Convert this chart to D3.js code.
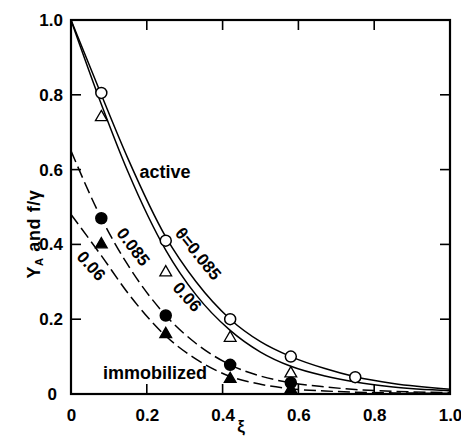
<!DOCTYPE html>
<html><head><meta charset="utf-8">
<script src="https://cdn.jsdelivr.net/npm/d3@7"></script>
<style>
html,body{margin:0;padding:0;background:#fff;}
svg{display:block;}
text{font-family:"Liberation Sans",Arial,sans-serif;font-weight:bold;fill:#000;}
</style></head>
<body>
<svg id="chart" width="461" height="440"></svg>
<script>
// ---- data ----
const xTicks = [0, 0.2, 0.4, 0.6, 0.8, 1.0];
const xTickLabels = ["0", "0.2", "0.4", "0.6", "0.8", "1.0"];
const yTicks = [0, 0.2, 0.4, 0.6, 0.8, 1.0];
const yTickLabels = ["0", "0.2", "0.4", "0.6", "0.8", "1.0"];

const xiPoints = [0.08, 0.25, 0.42, 0.58, 0.75];
const activeHigh = [0.805, 0.41, 0.20, 0.10, 0.045];    // open circles, θ=0.085
const activeLow = [0.74, 0.325, 0.15, 0.055];           // open triangles, θ=0.06
const immobHigh = [0.47, 0.21, 0.078, 0.03];            // filled circles
const immobLow = [0.40, 0.16, 0.04, 0.012];             // filled triangles

const curveX = [0, 0.08, 0.15, 0.25, 0.33, 0.42, 0.5, 0.58, 0.67, 0.75, 0.85, 1.0];
const curveActiveHigh = [1.0, 0.80, 0.63, 0.42, 0.30, 0.20, 0.14, 0.10, 0.068, 0.046, 0.028, 0.013];
const curveActiveLow  = [1.0, 0.775, 0.595, 0.385, 0.265, 0.17, 0.112, 0.074, 0.048, 0.032, 0.019, 0.009];
const curveImmobHigh  = [0.65, 0.47, 0.345, 0.21, 0.135, 0.078, 0.048, 0.03, 0.019, 0.012, 0.007, 0.004];
const curveImmobLow   = [0.48, 0.37, 0.27, 0.155, 0.093, 0.047, 0.026, 0.014, 0.008, 0.005, 0.003, 0.002];

// ---- layout ----
const svg = d3.select("#chart");
const m = {left: 71, right: 11, top: 20, bottom: 46};
const W = 461 - m.left - m.right, H = 440 - m.top - m.bottom;
const g = svg.append("g").attr("transform", `translate(${m.left},${m.top})`);
const x = d3.scaleLinear().domain([0, 1]).range([0, W]);
const y = d3.scaleLinear().domain([0, 1]).range([H, 0]);

// frame
g.append("rect").attr("x", 0).attr("y", 0).attr("width", W).attr("height", H)
  .attr("fill", "none").attr("stroke", "#000").attr("stroke-width", 2.2);

const inner = [0.2, 0.4, 0.6, 0.8];
const ax = g.append("g").attr("transform", `translate(0,${H})`)
  .call(d3.axisBottom(x).tickValues(xTicks).tickSize(0).tickPadding(15)
    .tickFormat((d, i) => xTickLabels[i]));
const ay = g.append("g")
  .call(d3.axisLeft(y).tickValues(yTicks).tickSize(0).tickPadding(8)
    .tickFormat((d, i) => yTickLabels[i]));
[ax, ay].forEach(a => { a.select(".domain").remove(); a.selectAll("text").attr("font-size", 17).attr("font-family", "Liberation Sans, Arial, sans-serif").attr("font-weight", "bold"); });
ay.selectAll(".tick").filter(d => d === 0).select("text").attr("x", -14);

const tk = 10;
inner.forEach(v => {
  g.append("line").attr("x1", 0).attr("x2", tk).attr("y1", y(v)).attr("y2", y(v)).attr("stroke", "#000").attr("stroke-width", 1.6);
  g.append("line").attr("x1", W).attr("x2", W - tk).attr("y1", y(v)).attr("y2", y(v)).attr("stroke", "#000").attr("stroke-width", 1.6);
  g.append("line").attr("x1", x(v)).attr("x2", x(v)).attr("y1", H).attr("y2", H - tk).attr("stroke", "#000").attr("stroke-width", 1.6);
  g.append("line").attr("x1", x(v)).attr("x2", x(v)).attr("y1", 0).attr("y2", tk).attr("stroke", "#000").attr("stroke-width", 1.6);
});

// curves
const line = d3.line().x(d => x(d[0])).y(d => y(d[1])).curve(d3.curveMonotoneX);
function drawCurve(vals, dash) {
  g.append("path").datum(curveX.map((v, i) => [v, vals[i]]))
    .attr("d", line).attr("fill", "none").attr("stroke", "#000")
    .attr("stroke-width", 1.5).attr("stroke-dasharray", dash ? "12,5" : null);
}
drawCurve(curveActiveHigh, false);
drawCurve(curveActiveLow, false);
drawCurve(curveImmobHigh, true);
drawCurve(curveImmobLow, true);

// markers
function circles(vals, filled) {
  g.selectAll(null).data(vals.map((v, i) => [xiPoints[i], v])).enter().append("circle")
    .attr("cx", d => x(d[0])).attr("cy", d => y(d[1])).attr("r", 5.5)
    .attr("fill", filled ? "#000" : "#fff").attr("stroke", "#000").attr("stroke-width", 1.5);
}
const tri = d3.symbol().type(d3.symbolTriangle).size(60);
function triangles(vals, filled) {
  g.selectAll(null).data(vals.map((v, i) => [xiPoints[i], v])).enter().append("path")
    .attr("d", tri).attr("transform", d => `translate(${x(d[0])},${y(d[1])})`)
    .attr("fill", filled ? "#000" : "#fff").attr("stroke", "#000").attr("stroke-width", 1.3);
}
circles(activeHigh, false);
triangles(activeLow, false);
circles(immobHigh, true);
triangles(immobLow, true);

// annotations
function label(txt, px, py, rot, size) {
  svg.append("text").attr("transform", `translate(${px},${py}) rotate(${rot})`)
    .attr("text-anchor", "middle").attr("dominant-baseline", "central")
    .attr("font-size", size || 17).text(txt);
}
label("active", 165, 172, 0, 18);
label("θ=0.085", 198, 254, 51, 17);
label("0.06", 187, 297, 48, 17);
label("0.085", 133, 247, 53, 17);
label("0.06", 91, 266, 48, 17);
label("immobilized", 155, 373, 0, 18);

// axis titles
const yl = svg.append("text").attr("transform", "translate(34,234) rotate(-90)")
  .attr("text-anchor", "middle").attr("dominant-baseline", "central")
  .attr("font-size", 18).attr("letter-spacing", 0.6);
yl.append("tspan").text("Y");
yl.append("tspan").text("A").attr("font-size", 11).attr("dy", 5);
yl.append("tspan").text(" and f/γ").attr("dy", -5);
svg.append("text").attr("x", 241).attr("y", 426).attr("text-anchor", "middle")
  .attr("dominant-baseline", "central").attr("font-size", 17).text("ξ");
</script>
</body></html>
